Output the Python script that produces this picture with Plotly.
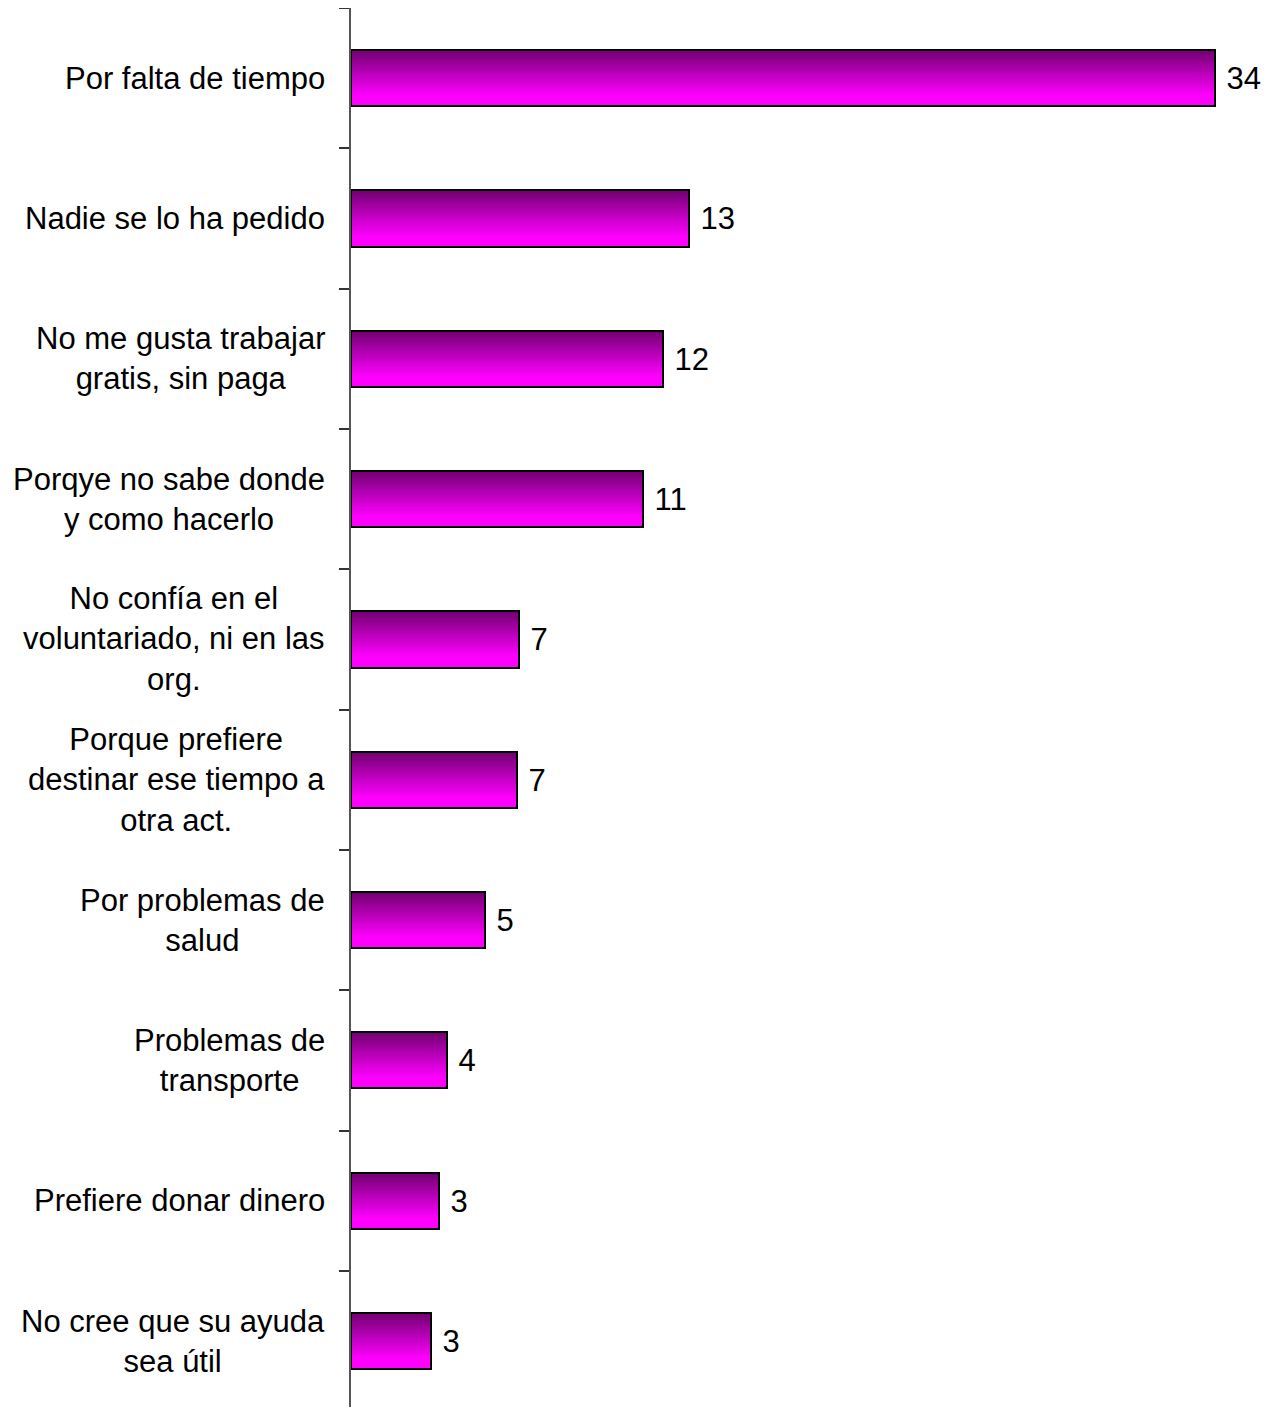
import plotly.graph_objects as go

categories = [
    "Por falta de tiempo",
    "Nadie se lo ha pedido",
    "No me gusta trabajar<br>gratis, sin paga",
    "Porqye no sabe donde<br>y como hacerlo",
    "No confía en el<br>voluntariado, ni en las<br>org.",
    "Porque prefiere<br>destinar ese tiempo a<br>otra act.",
    "Por problemas de<br>salud",
    "Problemas de<br>transporte",
    "Prefiere donar dinero",
    "No cree que su ayuda<br>sea útil",
]
values = [33.98, 13.29, 12.27, 11.48, 6.61, 6.53, 5.27, 3.78, 3.46, 3.15]
value_labels = ["34", "13", "12", "11", "7", "7", "5", "4", "3", "3"]

positions = list(range(len(categories)))
boundaries = [p - 0.5 for p in positions] + [positions[-1] + 0.5]

FONT = "Liberation Sans, Arial, sans-serif"
BAR_W = 0.4
N = 28
top_rgb = (112, 0, 112)
bot_rgb = (255, 0, 255)

fig = go.Figure()
for k in range(N):
    t = min(1.0, (k + 0.5) / (N * 0.82))
    c = tuple(int(round(a + (b - a) * t)) for a, b in zip(top_rgb, bot_rgb))
    fig.add_trace(go.Bar(
        x=values, y=positions, orientation="h",
        offset=-BAR_W / 2 + k * BAR_W / N, width=BAR_W / N * 1.08,
        marker=dict(color="rgb(%d,%d,%d)" % c, line=dict(width=0)),
        hoverinfo="skip", showlegend=False,
    ))

# outline + value labels
fig.add_trace(go.Bar(
    x=values, y=positions, orientation="h",
    offset=-BAR_W / 2, width=BAR_W,
    marker=dict(color="rgba(0,0,0,0)", line=dict(color="black", width=2)),
    text=[" " + v for v in value_labels], textposition="outside",
    textfont=dict(family=FONT, size=31, color="black"),
    cliponaxis=False, showlegend=False,
))

for p, c in zip(positions, categories):
    fig.add_annotation(
        x=0, xref="paper", y=p, yref="y", text=c, showarrow=False,
        xanchor="right", yanchor="middle", align="center", xshift=-24,
        font=dict(family=FONT, size=31, color="black"),
    )

fig.update_layout(
    width=1266, height=1399,
    margin=dict(l=343, r=0, t=0, b=0),
    plot_bgcolor="white", paper_bgcolor="white",
    barmode="overlay", bargap=0,
    xaxis=dict(range=[0, 36.3], visible=False),
    yaxis=dict(range=[9.47, -0.5], showgrid=False, zeroline=False,
               showline=True, linecolor="#555555", linewidth=1.5,
               tickmode="array", tickvals=boundaries, ticktext=[""] * len(boundaries),
               ticks="outside", ticklen=10, tickcolor="#333333", tickwidth=1.5,
               showticklabels=False),
)

fig.write_html("out.html")
